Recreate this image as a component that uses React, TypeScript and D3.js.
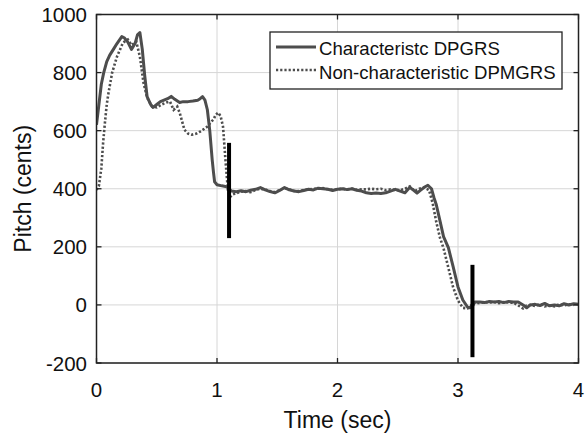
import React from "react";
import * as d3 from "d3";

const xTicks = [0, 1, 2, 3, 4];
const yTicks = [-200, 0, 200, 400, 600, 800, 1000];

const charT = [0, 0.02, 0.04, 0.06, 0.085, 0.11, 0.14, 0.17, 0.21, 0.23, 0.26, 0.29, 0.32, 0.34, 0.36, 0.38, 0.40, 0.42, 0.45, 0.47, 0.50, 0.53, 0.56, 0.59, 0.62, 0.65, 0.69, 0.72, 0.76, 0.80, 0.84, 0.86, 0.88, 0.90, 0.92, 0.94, 0.96, 0.97, 0.98, 1.00, 1.04, 1.08,
  1.12, 1.16, 1.20, 1.24, 1.28, 1.32, 1.36, 1.40, 1.44, 1.48, 1.52, 1.56, 1.60, 1.64, 1.68, 1.72, 1.76, 1.80, 1.84, 1.88, 1.92, 1.96, 2.00, 2.04, 2.08, 2.12, 2.16, 2.20, 2.24, 2.28, 2.32, 2.36, 2.40, 2.44, 2.48, 2.52, 2.56, 2.60, 2.63, 2.66, 2.69, 2.72, 2.75, 2.78, 2.80, 2.82, 2.85, 2.88, 2.92, 2.96, 3.00, 3.04, 3.08, 3.10, 3.12, 3.14, 3.18, 3.22, 3.26, 3.30, 3.34, 3.38, 3.42, 3.46, 3.50, 3.54, 3.57, 3.60, 3.64, 3.68, 3.72, 3.76, 3.80, 3.84, 3.88, 3.92, 3.96, 4.00];
const charV = [620, 690, 760, 800, 838, 860, 880, 900, 924, 920, 905, 880, 900, 930, 938, 880, 790, 717, 690, 680, 690, 700, 705, 710, 718, 708, 697, 700, 700, 702, 705, 710, 717, 705, 672, 600, 500, 460, 424, 414, 410, 407,
  392, 390, 393, 390, 395, 398, 404, 396, 390, 386, 394, 404, 396, 392, 390, 394, 398, 396, 402, 400, 398, 394, 398, 400, 397, 400, 395, 392, 386, 384, 385, 384, 386, 392, 398, 392, 386, 405, 395, 385, 395, 405, 412, 400, 370, 345, 290, 235, 197, 131, 62, 17, -8, -10, -5, 10, 10, 8, 12, 10, 12, 8, 12, 10, 10, 0, -10, 0, 2, -2, 5, -3, 0, -3, 4, 0, 4, 2];

const nonT = [0, 0.02, 0.04, 0.055, 0.07, 0.085, 0.10, 0.13, 0.17, 0.22, 0.26, 0.29, 0.31, 0.33, 0.36, 0.39, 0.42, 0.46, 0.50, 0.54, 0.58, 0.61, 0.64, 0.67, 0.69, 0.73, 0.76, 0.79, 0.83, 0.86, 0.89, 0.92, 0.95, 0.97, 0.99, 1.01, 1.03, 1.05, 1.07, 1.09, 1.11, 1.13,
  1.16, 1.20, 1.24, 1.28, 1.32, 1.36, 1.40, 1.44, 1.48, 1.52, 1.56, 1.60, 1.64, 1.68, 1.72, 1.76, 1.80, 1.84, 1.88, 1.92, 1.96, 2.00, 2.04, 2.08, 2.12, 2.16, 2.20, 2.24, 2.28, 2.32, 2.36, 2.40, 2.44, 2.48, 2.52, 2.56, 2.60, 2.64, 2.68, 2.72, 2.76, 2.79, 2.82, 2.85, 2.88, 2.92, 2.96, 3.00, 3.04, 3.08, 3.10, 3.12, 3.14, 3.18, 3.22, 3.26, 3.30, 3.34, 3.38, 3.42, 3.46, 3.50, 3.54, 3.57, 3.60, 3.64, 3.68, 3.72, 3.76, 3.80, 3.84, 3.88, 3.92, 3.96, 4.00];
const nonV = [396, 410, 470, 559, 628, 690, 731, 800, 855, 903, 914, 895, 900, 907, 855, 765, 714, 683, 680, 690, 697, 700, 672, 683, 662, 603, 590, 586, 590, 597, 605, 614, 630, 638, 655, 662, 650, 614, 500, 397, 372, 380,
  385, 390, 392, 388, 396, 400, 398, 392, 388, 396, 402, 398, 392, 392, 396, 398, 400, 400, 402, 398, 396, 398, 400, 398, 400, 396, 398, 398, 400, 398, 400, 395, 398, 396, 395, 400, 408, 392, 400, 405, 395, 350, 285, 232, 195, 128, 60, 15, -10, -12, -8, 5, 8, 6, 10, 8, 10, 6, 10, 8, 8, -2, -12, -2, 0, -4, 3, -5, -2, -5, 2, -2, 2, 0];

const markerT = [1.1, 3.12];
const markerLo = [230, -180];
const markerHi = [558, 138];

const legendLabels = ["Characteristc DPGRS", "Non-characteristic DPMGRS"];

const W = 586, H = 435;
const left = 96.5, right = 578.5, top = 14.5, bottom = 363;

export default function App() {
  const x = d3.scaleLinear().domain([0, 4]).range([left, right]);
  const y = d3.scaleLinear().domain([-200, 1000]).range([bottom, top]);
  const line = d3.line<[number, number]>().x(d => x(d[0])).y(d => y(d[1]));
  const charPts = charT.map((t, i) => [t, charV[i]] as [number, number]);
  const nonPts = nonT.map((t, i) => [t, nonV[i]] as [number, number]);
  const font = "'Liberation Sans', Arial, sans-serif";
  const curveColor = "#4d4d4d";
  return (
    <div style={{ position: "fixed", left: 0, top: 0 }}>
      <svg width={W} height={H} style={{ display: "block", background: "#fff" }}>
        <defs>
          <clipPath id="plot">
            <rect x={left} y={top} width={right - left} height={bottom - top} />
          </clipPath>
        </defs>
        {xTicks.map(t => (
          <line key={"gx" + t} x1={x(t)} x2={x(t)} y1={top} y2={bottom} stroke="#d6d6d6" strokeWidth={1} />
        ))}
        {yTicks.map(t => (
          <line key={"gy" + t} x1={left} x2={right} y1={y(t)} y2={y(t)} stroke="#d6d6d6" strokeWidth={1} />
        ))}
        <g clipPath="url(#plot)">
          <path d={line(nonPts) || ""} fill="none" stroke={curveColor} strokeWidth={2.6} strokeDasharray="2.2 2" />
          <path d={line(charPts) || ""} fill="none" stroke={curveColor} strokeWidth={3} strokeLinejoin="round" />
        </g>
        {markerT.map((t, i) => (
          <line key={"m" + i} x1={x(t)} x2={x(t)} y1={y(markerLo[i])} y2={y(markerHi[i])} stroke="#000" strokeWidth={4} />
        ))}
        <rect x={left} y={top} width={right - left} height={bottom - top} fill="none" stroke="#222" strokeWidth={1.5} />
        {xTicks.map(t => (
          <g key={"tx" + t}>
            <line x1={x(t)} x2={x(t)} y1={bottom} y2={bottom - 5} stroke="#222" strokeWidth={1.3} />
            <line x1={x(t)} x2={x(t)} y1={top} y2={top + 5} stroke="#222" strokeWidth={1.3} />
            <text x={x(t)} y={397} textAnchor="middle" fontFamily={font} fontSize={20.5} fill="#111">{t}</text>
          </g>
        ))}
        {yTicks.map(t => (
          <g key={"ty" + t}>
            <line x1={left} x2={left + 5} y1={y(t)} y2={y(t)} stroke="#222" strokeWidth={1.3} />
            <line x1={right} x2={right - 5} y1={y(t)} y2={y(t)} stroke="#222" strokeWidth={1.3} />
            <text x={87} y={y(t) + 7.5} textAnchor="end" fontFamily={font} fontSize={20.5} fill="#111">{t}</text>
          </g>
        ))}
        <text x={(left + right) / 2} y={428} textAnchor="middle" fontFamily={font} fontSize={23} fill="#111">Time (sec)</text>
        <text transform={`translate(31,${(top + bottom) / 2}) rotate(-90)`} textAnchor="middle" fontFamily={font} fontSize={23} fill="#111">Pitch (cents)</text>
        <rect x={270} y={32} width={292} height={57} fill="#fff" stroke="#222" strokeWidth={1.3} />
        <line x1={276} x2={316} y1={47} y2={47} stroke={curveColor} strokeWidth={3} />
        <line x1={276} x2={316} y1={70} y2={70} stroke={curveColor} strokeWidth={2.6} strokeDasharray="2.2 2" />
        <text x={319} y={55} fontFamily={font} fontSize={18.6} fill="#111">{legendLabels[0]}</text>
        <text x={319} y={79} fontFamily={font} fontSize={18.6} fill="#111">{legendLabels[1]}</text>
      </svg>
    </div>
  );
}
